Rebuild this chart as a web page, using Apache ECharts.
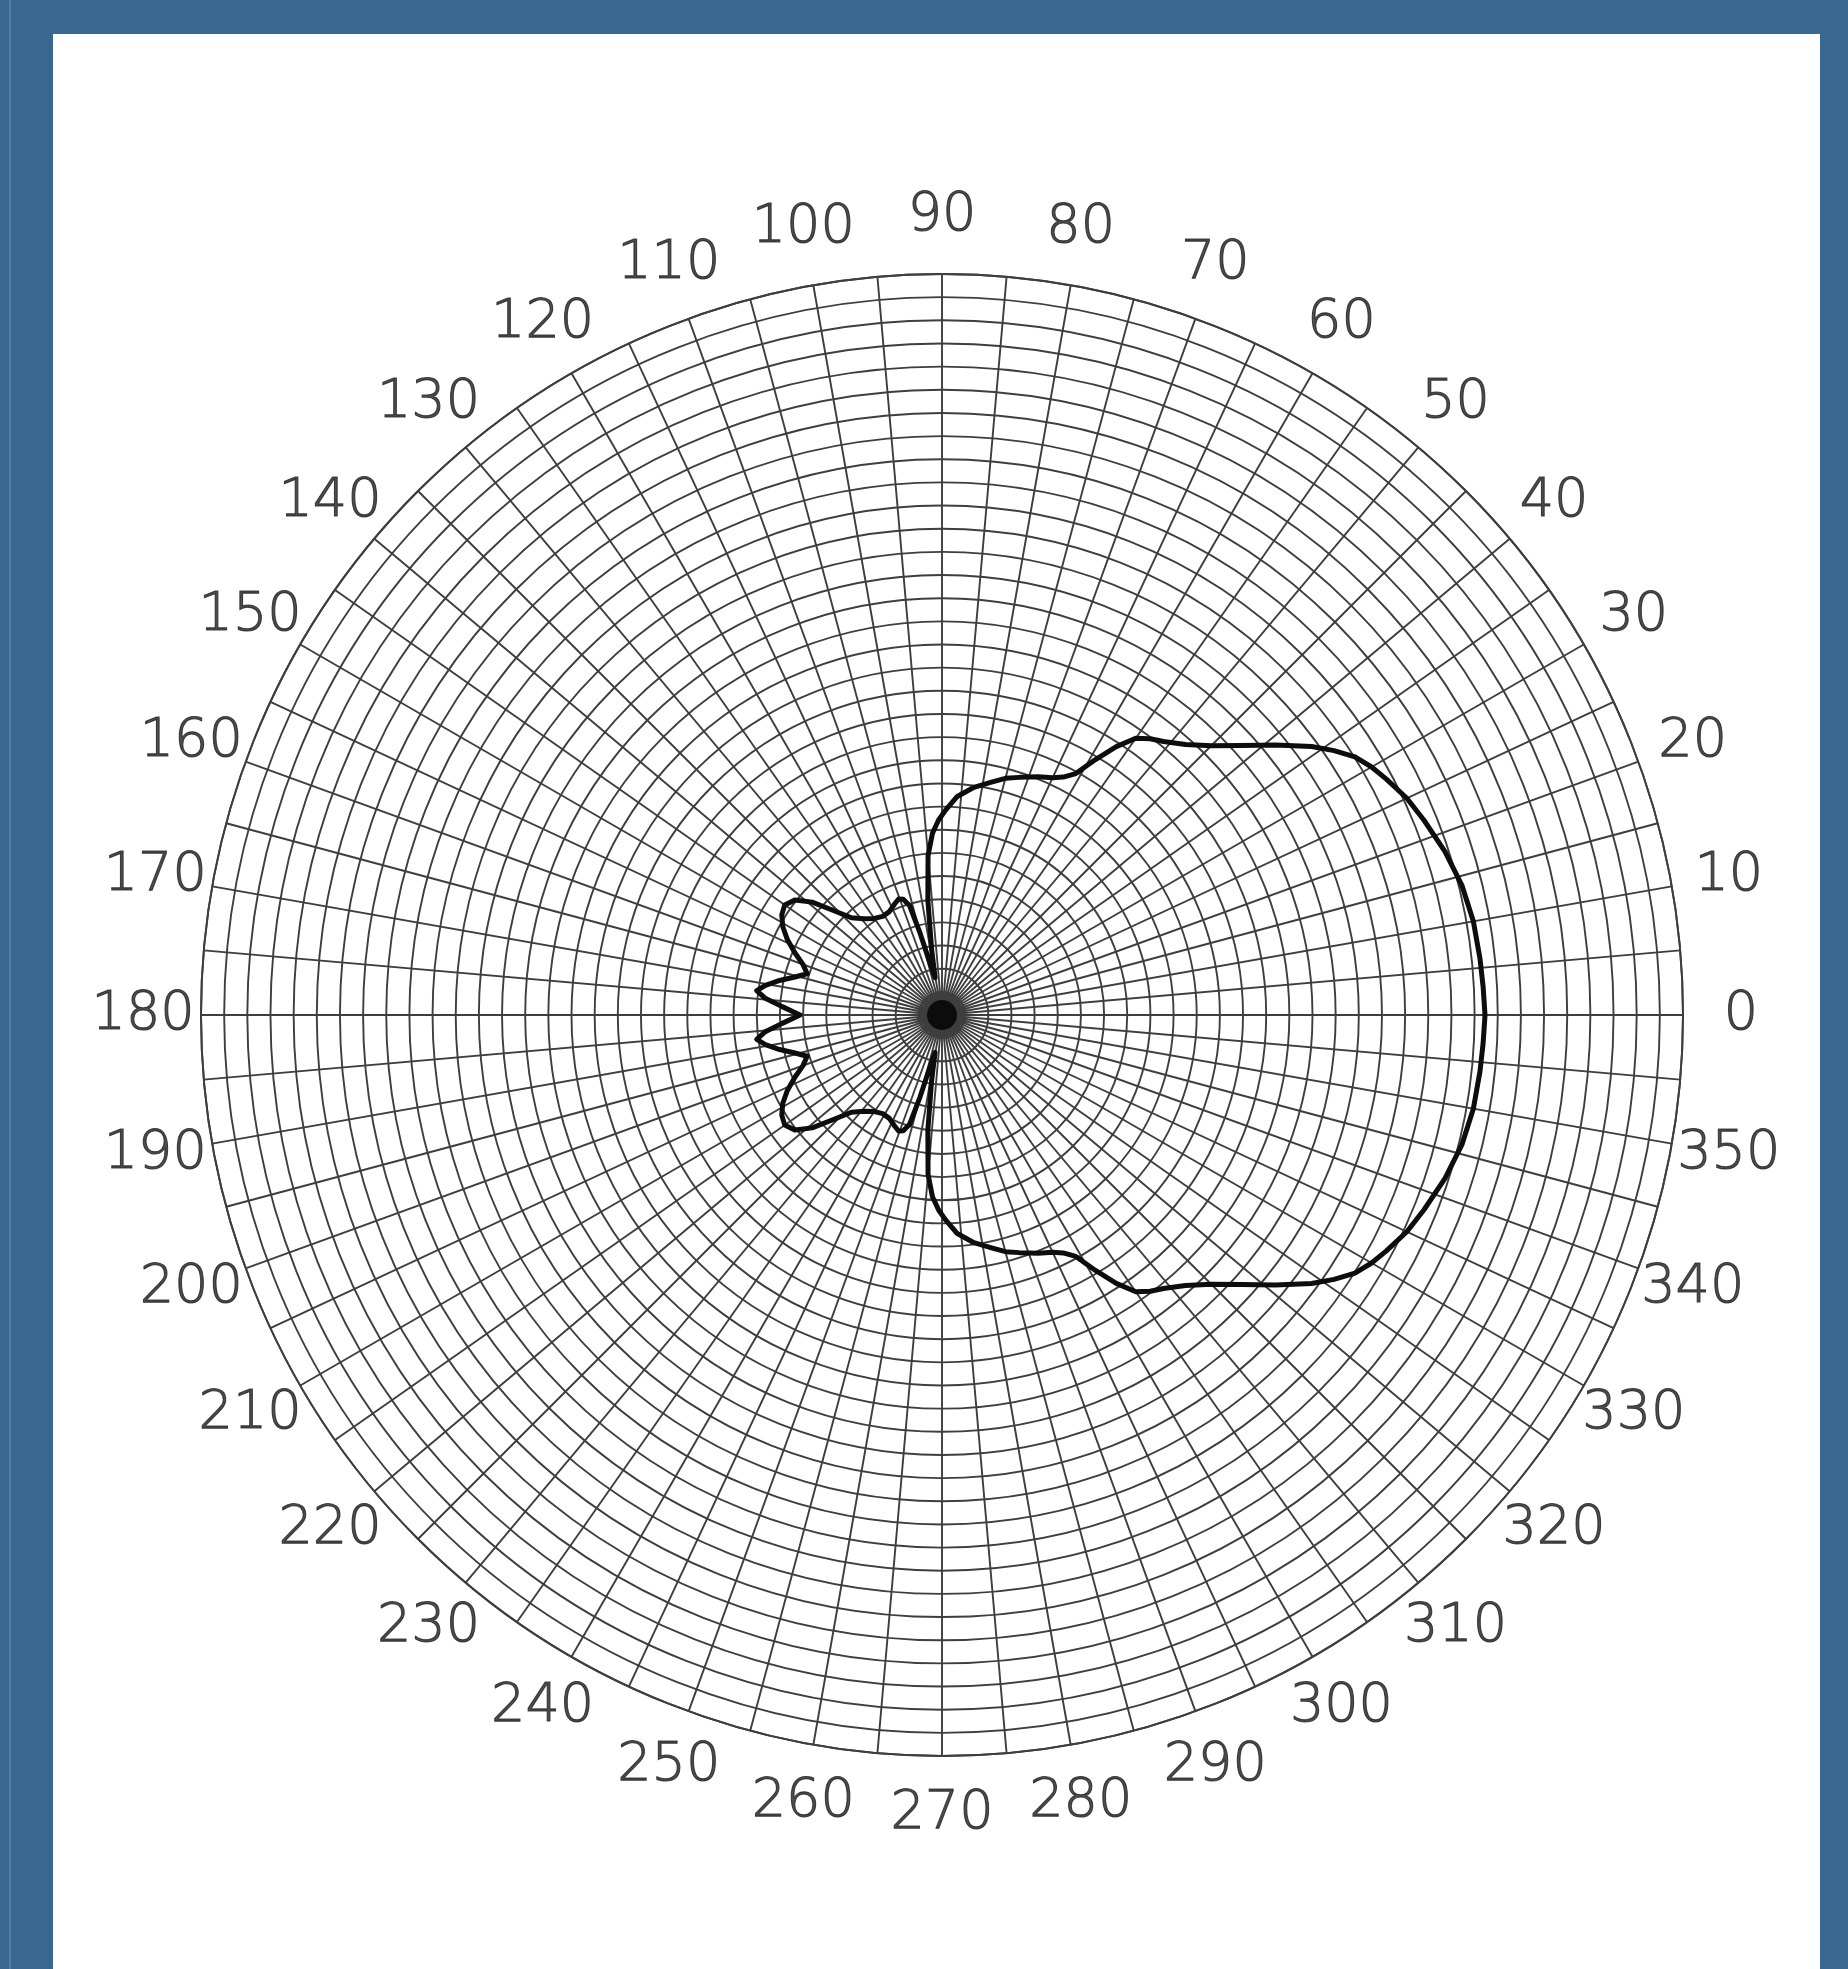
<!DOCTYPE html>
<html>
<head>
<meta charset="utf-8">
<script src="https://cdn.jsdelivr.net/npm/echarts@6/dist/echarts.min.js"></script>
<style>
  html, body { margin: 0; padding: 0; background: #386892; width: 1848px; height: 1969px; overflow: hidden; }
  #stripe { position: absolute; left: 9px; top: 0; width: 2px; height: 1969px; background: #4f7fa8; }
  #chart { position: absolute; left: 53px; top: 34px; width: 1767px; height: 1935px; background: #ffffff; }
</style>
</head>
<body>
<div id="stripe"></div>
<div id="chart"></div>
<script>
// Angle tick labels (degrees), every 10
const labelAngles = [0,10,20,30,40,50,60,70,80,90,100,110,120,130,140,150,160,170,
  180,190,200,210,220,230,240,250,260,270,280,290,300,310,320,330,340,350];
const angleTickLabels = ['0','10','20','30','40','50','60','70','80','90','100','110','120','130','140','150','160','170',
  '180','190','200','210','220','230','240','250','260','270','280','290','300','310','320','330','340','350'];
// radial position (grid units) at which the angle labels are centred
const labelRadius = 34.5;

// Radial scale: 32 rings, one unit each
const radiusMax = 32;

// Pattern: angle (deg) and radial value (grid units)
const patternAngle = [
  0, 3, 6, 10, 14, 18, 22, 25, 28, 30, 32, 34, 36, 39, 42, 45, 48, 51, 53, 55, 57, 59, 61, 63, 65, 68, 72, 75, 78, 82, 86, 89,
  91, 93, 95, 97, 99, 100.5,
  103, 105, 106.5, 108.5, 110.5, 113, 117, 121, 125, 129, 133, 136, 139, 142, 145, 148, 151, 154, 157, 160, 163,
  165.5, 168, 170.5, 172.5, 174.5, 177, 180, 183, 185.5, 187.5, 189.5, 192, 194.5, 197,
  200, 203, 206, 209, 212, 215, 218, 221, 224, 227, 231, 235, 239, 243, 247, 249.5, 251.5, 253.5, 255, 257, 259.5,
  261, 263, 265, 267, 269, 271, 274, 278, 282, 285, 288, 292, 295, 297, 299, 301, 303, 305, 307, 309, 312, 315, 318,
  321, 324, 326, 328, 330, 332, 335, 338, 342, 346, 350, 354, 357, 360
];
const patternGain = [
  23.45, 23.40, 23.36, 23.30, 23.14, 22.84, 22.45, 22.15, 21.72, 21.42, 21.03, 20.42, 19.73, 18.52, 17.40, 16.45, 15.72, 15.20, 14.94, 14.59, 13.82, 12.87, 11.92, 11.53, 11.31, 11.10, 10.79, 10.58, 10.28, 9.93, 9.46, 8.85,
  8.42, 7.86, 6.91, 5.01, 2.85, 1.64,
  2.29, 3.67, 4.92, 5.27, 5.35, 5.22, 5.01, 4.97, 5.09, 5.35, 5.74, 6.48, 7.43, 8.07, 8.29, 8.16, 7.86, 7.43, 6.91, 6.39, 6.09,
  6.56, 7.17, 7.73, 8.07, 7.69, 6.91, 6.13, 6.91, 7.69, 8.07, 7.73, 7.17, 6.56, 6.09,
  6.39, 6.91, 7.43, 7.86, 8.16, 8.29, 8.07, 7.43, 6.48, 5.74, 5.35, 5.09, 4.97, 5.01, 5.22, 5.35, 5.27, 4.92, 3.67, 2.29, 1.64,
  2.85, 5.01, 6.91, 7.86, 8.42, 8.85, 9.46, 9.93, 10.28, 10.58, 10.79, 11.10, 11.31, 11.53, 11.92, 12.87, 13.82, 14.59, 14.94, 15.20, 15.72, 16.45, 17.40,
  18.52, 19.73, 20.42, 21.03, 21.42, 21.72, 22.15, 22.45, 22.84, 23.14, 23.30, 23.36, 23.40, 23.45
];

// pole of the chart (radius 0), drawn as the dark hub where the grid converges
const poleData = [[0, 0]];

const gridLine = { color: '#3e3e3e', width: 1.9 };

const chart = echarts.init(document.getElementById('chart'), null, { renderer: 'canvas' });
chart.setOption({
  animation: false,
  backgroundColor: '#ffffff',
  polar: { center: [889, 981], radius: 741 },
  angleAxis: {
    type: 'value',
    min: 0,
    max: 360,
    interval: 5,
    startAngle: 0,
    clockwise: false,
    axisLine: { show: true, lineStyle: gridLine },
    axisTick: { show: false },
    splitLine: { show: true, lineStyle: gridLine },
    axisLabel: { show: false }
  },
  radiusAxis: {
    type: 'value',
    min: 0,
    max: radiusMax,
    interval: 1,
    axisLine: { show: false },
    axisTick: { show: false },
    axisLabel: { show: false },
    splitLine: { show: true, lineStyle: gridLine }
  },
  series: [{
    type: 'scatter',
    coordinateSystem: 'polar',
    clip: false,
    silent: true,
    symbol: 'circle',
    symbolSize: 30,
    itemStyle: { color: '#000000' },
    data: poleData,
    z: 3
  }, {
    type: 'line',
    coordinateSystem: 'polar',
    symbol: 'none',
    smooth: false,
    clip: false,
    lineStyle: { color: '#0d0d0d', width: 5, join: 'round' },
    data: patternAngle.map(function (a, i) { return [patternGain[i], a]; }),
    z: 5
  }, {
    type: 'scatter',
    coordinateSystem: 'polar',
    clip: false,
    symbol: 'circle',
    symbolSize: 1,
    silent: true,
    itemStyle: { color: 'rgba(0,0,0,0)' },
    label: {
      show: true,
      position: 'inside',
      color: '#222222',
      fontSize: 54,
      fontFamily: 'DejaVu Sans',
      fontWeight: 200,
      textBorderColor: '#222222',
      textBorderWidth: 1.1,
      formatter: function (p) { return angleTickLabels[p.dataIndex]; }
    },
    data: labelAngles.map(function (a) { return [labelRadius, a]; }),
    z: 6
  }]
});
</script>
</body>
</html>
